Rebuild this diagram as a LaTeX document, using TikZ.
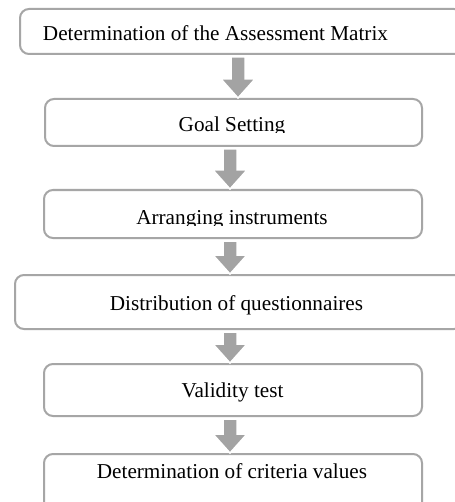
\documentclass[tikz,border=0pt]{standalone}
\usepackage{fontspec}
\setmainfont{Liberation Serif}
\usetikzlibrary{calc}
\definecolor{boxgray}{HTML}{A6A6A6}
\definecolor{arrowgray}{HTML}{A3A3A3}
\tikzset{
  stagebox/.style={draw=boxgray, line width=2bp, rounded corners=9bp, inner sep=0pt, anchor=north west, fill=none},
  stagetext/.style={anchor=base, inner sep=0pt, font=\fontsize{21.2bp}{25bp}\selectfont, text=black},
  blockarr/.style={fill=arrowgray, draw=white, line width=1.5bp, line join=miter}
}
\newcommand{\blockarrow}[3]{%
  \path[blockarr] let \p0=(#1,0), \p1=(#2.south), \p2=(#3.north) in
    (\x0-7bp,\y1-2bp) -- (\x0+7bp,\y1-2bp) -- (\x0+7bp,\y2+19bp) -- (\x0+17bp,\y2+19bp)
    -- (\x0,\y2) -- (\x0-17bp,\y2+19bp) -- (\x0-7bp,\y2+19bp) -- cycle;
}
\begin{document}
\begin{tikzpicture}[x=1bp,y=-1bp]
\clip (0,0) rectangle (455,502);
\fill[white] (0,0) rectangle (455,502);
% boxes
\node[stagebox, minimum width=443bp, minimum height=45bp] (b1) at (19,8) {};
\node[stagebox, minimum width=377bp, minimum height=47bp] (b2) at (44,98) {};
\node[stagebox, minimum width=378bp, minimum height=48bp] (b3) at (43,189) {};
\node[stagebox, minimum width=448bp, minimum height=54bp] (b4) at (14,274) {};
\node[stagebox, minimum width=378bp, minimum height=52bp] (b5) at (43,363) {};
\node[stagebox, minimum width=378bp, minimum height=62bp] (b6) at (43,453) {};
% texts
\node[stagetext] (t1) at (215.5,41) {Determination of the Assessment Matrix};
\begin{scope}
\clip (44,100) rectangle (421,132.8);
\node[stagetext] (t2) at (232,131.7) {Goal Setting};
\end{scope}
\begin{scope}
\clip (43,191) rectangle (421,225.2);
\node[stagetext] (t3) at (232,224) {Arranging instruments};
\end{scope}
\node[stagetext] (t4) at (236.5,310) {Distribution of questionnaires};
\node[stagetext] (t5) at (232.5,397) {Validity test};
\node[stagetext] (t6) at (232,478) {Determination of criteria values};
% arrows
\blockarrow{238}{b1}{b2}
\blockarrow{230}{b2}{b3}
\blockarrow{230}{b3}{b4}
\blockarrow{230}{b4}{b5}
\blockarrow{230}{b5}{b6}
\end{tikzpicture}
\end{document}
